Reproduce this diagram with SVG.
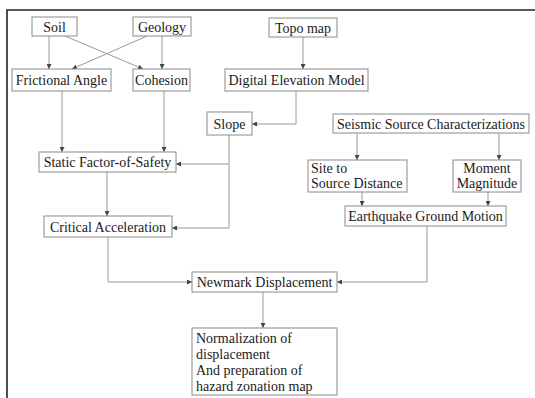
<svg xmlns="http://www.w3.org/2000/svg" width="535" height="398" viewBox="0 0 535 398">
<style>
.b{fill:#fff;stroke:#8a8a8a;stroke-width:1}
text{font-family:'Liberation Serif','Times New Roman','DejaVu Serif',serif;font-size:14px;fill:#1a1a1a}
.c{fill:none;stroke:#9a9a9a;stroke-width:1}
.m{marker-end:url(#ah)}
</style>
<defs>
<marker id="ah" viewBox="0 0 6 6" refX="6" refY="3" markerWidth="5" markerHeight="5" orient="auto" markerUnits="userSpaceOnUse">
<path d="M0,0 L6,3 L0,6 z" fill="#444"/>
</marker>
</defs>
<rect width="535" height="398" fill="#fff"/>
<path d="M7,398 V10 H535" fill="none" stroke="#222" stroke-width="1.6"/>
<g id="connectors">
<path class="c m" d="M49,36 V69"/>
<path class="c m" d="M147,36 L72,69"/>
<path class="c m" d="M65,36 L143,69"/>
<path class="c m" d="M162,36 V69"/>
<path class="c m" d="M303,37 V69"/>
<path class="c m" d="M296,91 V124 H252"/>
<path class="c m" d="M62,91 V152"/>
<path class="c m" d="M164,91 V152"/>
<path class="c m" d="M229,164 H176"/>
<path class="c m" d="M229,135 V228 H172"/>
<path class="c m" d="M107,172 V216"/>
<path class="c m" d="M108,237 V282 H192"/>
<path class="c m" d="M357,133 V160"/>
<path class="c m" d="M499,133 V160"/>
<path class="c m" d="M362,192 V206"/>
<path class="c m" d="M488,192 V206"/>
<path class="c m" d="M427,226 V282 H337"/>
<path class="c m" d="M263,292 V328"/>
</g>
<g id="soil"><rect class="b" x="32" y="17" width="45" height="19"/><text x="54.5" y="31.5" text-anchor="middle">Soil</text></g>
<g id="geology"><rect class="b" x="133" y="17" width="58" height="19"/><text x="162" y="31.5" text-anchor="middle">Geology</text></g>
<g id="frictional"><rect class="b" x="12" y="69" width="99" height="22"/><text x="61.5" y="85" text-anchor="middle">Frictional Angle</text></g>
<g id="cohesion"><rect class="b" x="133" y="69" width="57" height="22"/><text x="161.5" y="85" text-anchor="middle">Cohesion</text></g>
<g id="topo"><rect class="b" x="269" y="18" width="68" height="19"/><text x="303" y="32.5" text-anchor="middle">Topo map</text></g>
<g id="dem"><rect class="b" x="225" y="69" width="143" height="22"/><text x="296.5" y="85" text-anchor="middle">Digital Elevation Model</text></g>
<g id="slope"><rect class="b" x="207" y="112" width="45" height="23"/><text x="229.5" y="128.5" text-anchor="middle">Slope</text></g>
<g id="seismic"><rect class="b" x="333" y="114" width="196" height="19"/><text x="431" y="128.5" text-anchor="middle">Seismic Source Characterizations</text></g>
<g id="static"><rect class="b" x="39" y="152" width="137" height="20"/><text x="107.5" y="167" text-anchor="middle">Static Factor-of-Safety</text></g>
<g id="site"><rect class="b" x="308" y="160" width="99" height="32"/><text x="311" y="173">Site to</text><text x="311" y="188">Source Distance</text></g>
<g id="moment"><rect class="b" x="453" y="160" width="68" height="32"/><text x="487" y="173" text-anchor="middle">Moment</text><text x="487" y="188" text-anchor="middle">Magnitude</text></g>
<g id="earthquake"><rect class="b" x="345" y="206" width="161" height="20"/><text x="425.5" y="221" text-anchor="middle">Earthquake Ground Motion</text></g>
<g id="critical"><rect class="b" x="44" y="216" width="128" height="21"/><text x="108" y="231.5" text-anchor="middle">Critical Acceleration</text></g>
<g id="newmark"><rect class="b" x="192" y="272" width="145" height="20"/><text x="264.5" y="287" text-anchor="middle">Newmark Displacement</text></g>
<g id="normalization"><rect class="b" x="192" y="328" width="145" height="67"/><text x="196" y="343">Normalization of</text><text x="196" y="359">displacement</text><text x="196" y="375">And preparation of</text><text x="196" y="391">hazard zonation map</text></g>
</svg>
